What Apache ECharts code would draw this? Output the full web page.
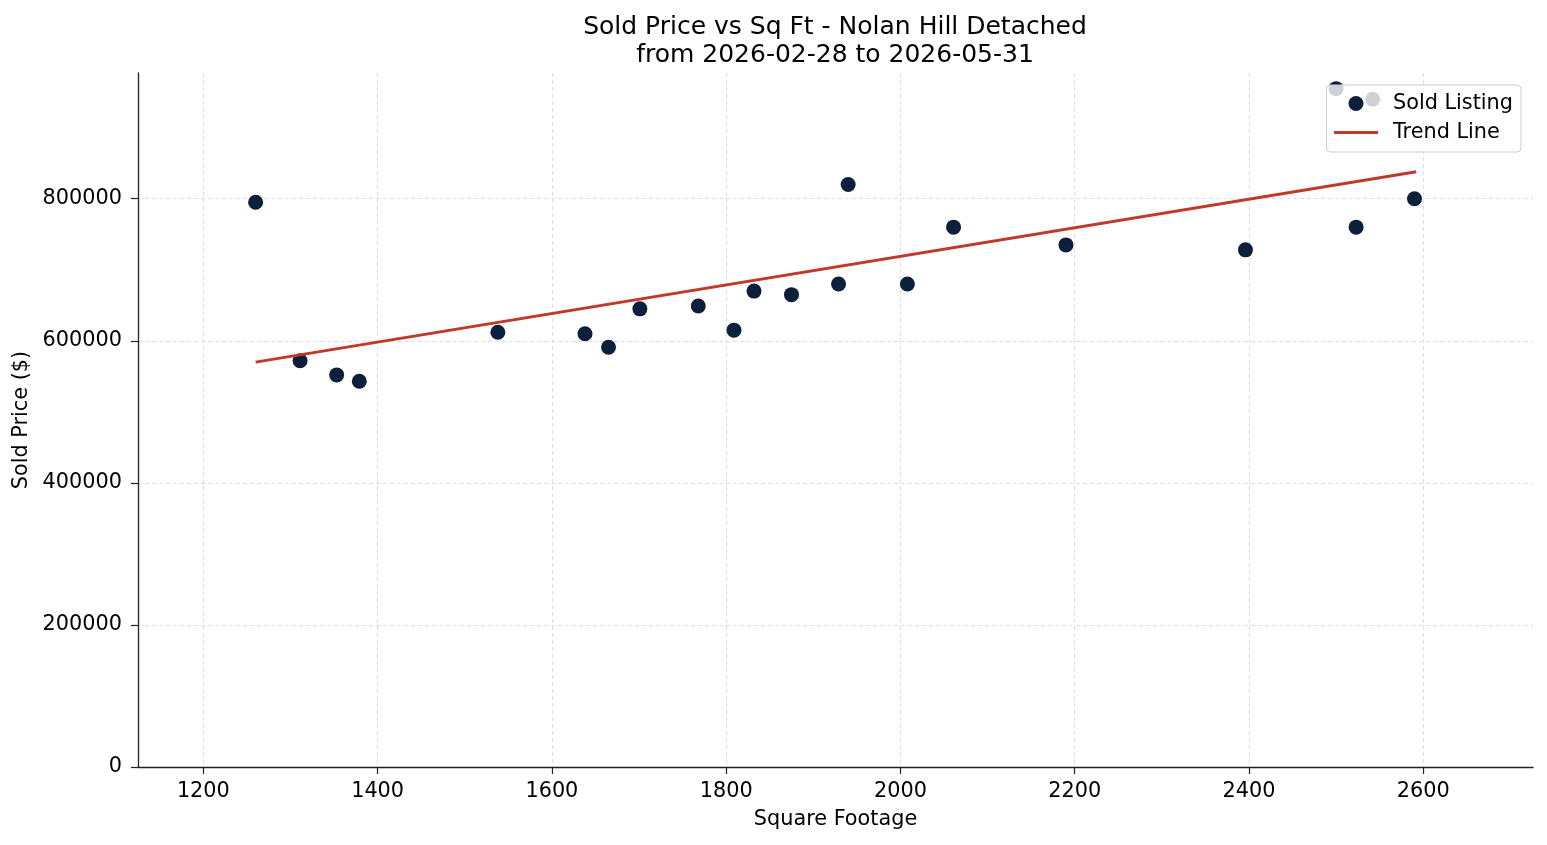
<!DOCTYPE html>
<html lang="en">
<head>
    <meta charset="UTF-8">
    <title>Sold Price vs Sq Ft</title>
    <script src="https://cdn.jsdelivr.net/npm/echarts@6/dist/echarts.min.js"></script>
</head>
<body style="margin:0">
<div id="main" style="width: 1547px;height:845px;"></div>
<script type="text/javascript">
    // sold listings
    var sqft  = [1260, 1311, 1353, 1379, 1538, 1638, 1665, 1701, 1768, 1809, 1832, 1875, 1929, 1940, 2008, 2061, 2190, 2396, 2500, 2523, 2542, 2590];
    var price = [795000, 572000, 552000, 543000, 612000, 610000, 591000, 645000, 649000, 615000, 670000, 665000, 680000, 820000, 680000, 760000, 735000, 728000, 955000, 760000, 940000, 800000];
    // trend line end points
    var trendX = [1260, 2592];
    var trendY = [570000, 838000];
    // tick labels
    var xTicks = [1200, 1400, 1600, 1800, 2000, 2200, 2400, 2600];
    var yTicks = [0, 200000, 400000, 600000, 800000];

    var myChart = echarts.init(document.getElementById('main'));

    var font = 'DejaVu Sans';
    var fs = 20.8;
    var scatterData = sqft.map(function (x, i) { return [x, price[i]]; });
    var trendData = trendX.map(function (x, i) { return [x, trendY[i]]; });

    var gridLine = {show: true, lineStyle: {color: '#d6d6d6', type: [4, 3], width: 0.8}};
    // plain numbers, no thousands separator
    var plain = function (v) { return String(v); };

    option = {
        animation: false,
        backgroundColor: '#fff',
        textStyle: {fontFamily: font},
        title: {
            text: 'Sold Price vs Sq Ft - Nolan Hill Detached\nfrom 2026-02-28 to 2026-05-31',
            left: 835,
            top: 13,
            padding: 0,
            textAlign: 'center',
            textStyle: {fontFamily: font, fontSize: 25, fontWeight: 'normal', color: '#000', lineHeight: 28}
        },
        legend: {
            right: 26,
            top: 85,
            orient: 'vertical',
            padding: [8, 8, 9, 6],
            itemWidth: 44,
            itemHeight: 15,
            itemGap: 8,
            backgroundColor: 'rgba(255,255,255,0.8)',
            borderColor: '#cccccc',
            borderWidth: 1,
            borderRadius: 4,
            textStyle: {fontFamily: font, fontSize: fs, color: '#000', lineHeight: 20, padding: [0, 0, 0, 10]},
            data: [
                {name: 'Sold Listing', icon: 'circle'},
                {name: 'Trend Line', itemStyle: {opacity: 0}, lineStyle: {width: 3, color: '#c0392b'}}
            ]
        },
        grid: {left: 138, right: 14, top: 73, bottom: 78, containLabel: false},
        xAxis: {
            type: 'value',
            min: 1125,
            max: 2726,
            name: 'Square Footage',
            nameLocation: 'middle',
            nameGap: 42,
            nameTextStyle: {fontFamily: font, fontSize: fs, color: '#000'},
            axisLine: {show: true, onZero: false, lineStyle: {color: '#222', width: 1.3}},
            axisTick: {show: true, length: 7, customValues: xTicks, lineStyle: {color: '#222', width: 1.2}},
            axisLabel: {customValues: xTicks, formatter: plain, margin: 14, fontFamily: font, fontSize: fs, color: '#000'},
            splitLine: Object.assign({customValues: xTicks}, gridLine)
        },
        yAxis: {
            type: 'value',
            min: 0,
            max: 977000,
            name: 'Sold Price ($)',
            nameLocation: 'middle',
            nameGap: 101,
            nameTextStyle: {fontFamily: font, fontSize: fs, color: '#000'},
            axisLine: {show: true, lineStyle: {color: '#222', width: 1.3}},
            axisTick: {show: true, length: 7, customValues: yTicks, lineStyle: {color: '#222', width: 1.2}},
            axisLabel: {customValues: yTicks, formatter: plain, margin: 16, fontFamily: font, fontSize: fs, color: '#000'},
            splitLine: Object.assign({customValues: yTicks}, gridLine)
        },
        series: [
            {
                name: 'Sold Listing',
                type: 'scatter',
                symbolSize: 15,
                itemStyle: {color: '#0c1f3b', opacity: 1},
                data: scatterData
            },
            {
                name: 'Trend Line',
                type: 'line',
                symbol: 'none',
                lineStyle: {color: '#c0392b', width: 3},
                itemStyle: {color: '#c0392b'},
                data: trendData
            }
        ]
    };

    myChart.setOption(option);
</script>
</body>
</html>
